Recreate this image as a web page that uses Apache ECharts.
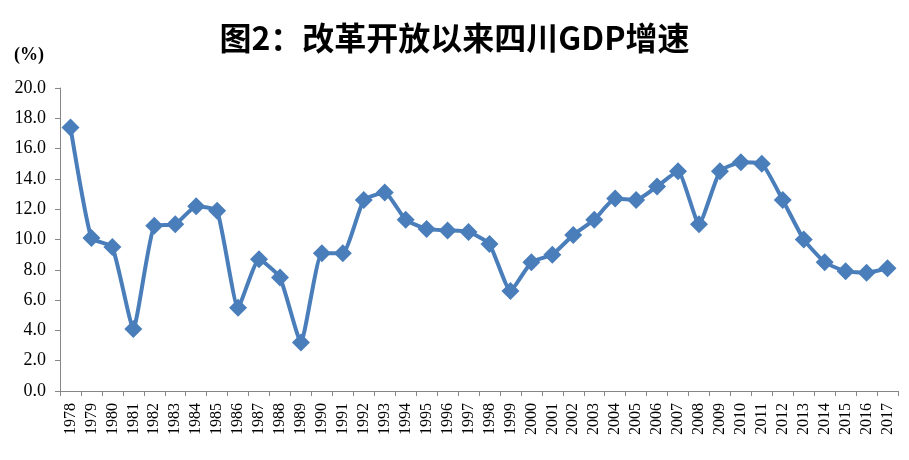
<!DOCTYPE html>
<html><head><meta charset="utf-8">
<script src="https://cdn.jsdelivr.net/npm/echarts@6/dist/echarts.min.js"></script>
<style>html,body{margin:0;padding:0;background:#fff}#c{width:909px;height:460px}</style>
</head><body><div id="c"></div>
<script>
const years = ['1978','1979','1980','1981','1982','1983','1984','1985','1986','1987','1988','1989','1990','1991','1992','1993','1994','1995','1996','1997','1998','1999','2000','2001','2002','2003','2004','2005','2006','2007','2008','2009','2010','2011','2012','2013','2014','2015','2016','2017'];
const growth = [17.4,10.1,9.5,4.1,10.9,11.0,12.2,11.9,5.5,8.7,7.5,3.2,9.1,9.1,12.6,13.1,11.3,10.7,10.6,10.5,9.7,6.6,8.5,9.0,10.3,11.3,12.7,12.6,13.5,14.5,11.0,14.5,15.1,15.0,12.6,10.0,8.5,7.9,7.8,8.1];
const titleText = '图2：改革开放以来四川GDP增速';
const unitText = '(%)';

const chart = echarts.init(document.getElementById('c'));
chart.setOption({
  animation: false,
  backgroundColor: '#fff',
  title: {
    text: titleText, left: 'center', top: 17,
    textStyle: {fontFamily: '"Noto Sans CJK SC", serif', fontSize: 32, fontWeight: 'bold', color: '#000'}
  },
  graphic: [{type: 'text', left: 14, top: 46, style: {text: unitText, font: 'bold 18px "Liberation Serif", serif', fill: '#000'}}],
  grid: {left: 60, right: 11, top: 88, bottom: 69},
  xAxis: {
    type: 'category', data: years, boundaryGap: true,
    axisLine: {lineStyle: {color: '#868686', width: 1}},
    axisTick: {show: true, length: 5, lineStyle: {color: '#868686'}},
    axisLabel: {rotate: 90, interval: 0, margin: 12, fontFamily: '"Liberation Serif", serif', fontSize: 16, color: '#000'}
  },
  yAxis: {
    type: 'value', min: 0, max: 20, interval: 2,
    axisLine: {show: true, lineStyle: {color: '#868686', width: 1}},
    axisTick: {show: true, length: 5, lineStyle: {color: '#868686'}},
    splitLine: {show: false},
    axisLabel: {formatter: v => v.toFixed(1), margin: 14, fontFamily: '"Liberation Serif", serif', fontSize: 18, color: '#000'}
  },
  series: [{
    type: 'line', data: growth, smooth: 0.15,
    symbol: 'diamond', symbolSize: 18,
    lineStyle: {color: '#4a7ebb', width: 4},
    itemStyle: {color: '#4a7ebb'}
  }]
});
</script></body></html>
